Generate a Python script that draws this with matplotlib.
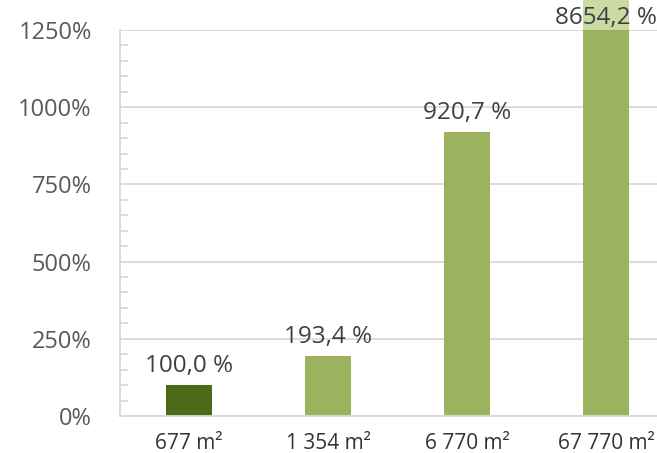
import matplotlib
matplotlib.use("Agg")
import matplotlib.pyplot as plt
from matplotlib.ticker import MultipleLocator, FuncFormatter

# Plot data
categories = ["677 m²", "1 354 m²", "6 770 m²", "67 770 m²"]
values = [100.0, 193.4, 920.7, 8654.2]
value_labels = ["100,0 %", "193,4 %", "920,7 %", "8654,2 %"]
bar_colors = ["#4f6a16", "#9bb35e", "#9bb35e", "#9bb35e"]
overflow_color = "#c9daa3"
y_max = 1250
y_major = 250
y_minor = 50

plt.rcParams["font.family"] = ["Open Sans", "DejaVu Sans"]

fig = plt.figure(figsize=(6.57, 4.53), dpi=100)
ax = fig.add_axes([119.5 / 657, 37 / 453, 556 / 657, 386 / 453])

x = list(range(len(categories)))
bar_w = 0.33

# Part of bars rising above the plot area, drawn in a lighter tint
for xi, v in zip(x, values):
    if v > y_max:
        ax.bar(xi, v, width=bar_w, color=overflow_color, clip_on=False, zorder=1)

bars = ax.bar(x, values, width=bar_w, color=bar_colors, zorder=2)

ax.set_xlim(-0.5, len(categories) - 0.5)
ax.set_ylim(0, y_max)

ax.yaxis.set_major_locator(MultipleLocator(y_major))
ax.yaxis.set_minor_locator(MultipleLocator(y_minor))
ax.yaxis.set_major_formatter(FuncFormatter(lambda v, p: f"{v:.0f}%"))
ax.grid(axis="y", which="major", color="#d9d9d9", linewidth=1.3, zorder=0)
ax.set_axisbelow(True)

ax.set_xticks(x)
ax.set_xticklabels(categories)

ax.tick_params(axis="y", which="major", length=0, pad=20, labelsize=17, labelcolor="#595959")
ax.tick_params(axis="y", which="minor", direction="in", length=6, width=1.3, color="#d9d9d9")
ax.tick_params(axis="x", length=0, pad=12, labelsize=15, labelcolor="#333333")

for side in ["top", "right"]:
    ax.spines[side].set_visible(False)
for side in ["left", "bottom"]:
    ax.spines[side].set_color("#d9d9d9")
    ax.spines[side].set_linewidth(1.3)

# Value labels; bars taller than the plot area get their label at the top edge
for xi, v, lab in zip(x, values, value_labels):
    y_anchor = min(v, y_max)
    off = 5 if v <= y_max else 0
    ax.annotate(lab, (xi, y_anchor), xytext=(0, off), textcoords="offset points",
                ha="center", va="bottom", fontsize=17.5, color="#404040",
                annotation_clip=False, zorder=5)

fig.savefig("out.png", dpi=100, facecolor="white")
